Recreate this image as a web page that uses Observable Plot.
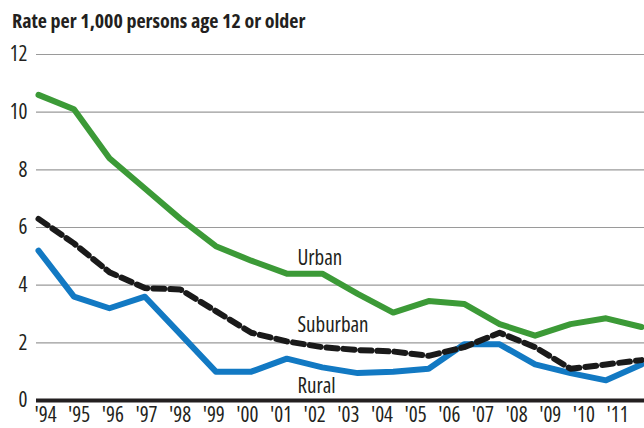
<!DOCTYPE html>
<html>
<head>
<meta charset="utf-8">
<script src="https://cdn.jsdelivr.net/npm/d3@7"></script>
<script src="https://cdn.jsdelivr.net/npm/@observablehq/plot@0.6"></script>
<style>
  html, body { margin: 0; padding: 0; background: #fff; }
  #wrap { position: relative; width: 644px; height: 428px; overflow: hidden;
          font-family: "Open Sans", sans-serif; font-stretch: 75%; }
  #wrap svg { font-stretch: 75%; }
  #title { position: absolute; left: 12px; top: 11px; font-size: 20px; line-height: 20px;
           font-weight: bold; color: #231f20; white-space: nowrap; font-stretch: 75%; }
  #main, #xaxis { position: absolute; left: 0; top: 40px; }
</style>
</head>
<body>
<div id="wrap">
  <div id="title">Rate per 1,000 persons age 12 or older</div>
  <div id="main"></div>
  <div id="xaxis"></div>
</div>
<script>
const years = [1994,1995,1996,1997,1998,1999,2000,2001,2002,2003,2004,2005,2006,2007,2008,2009,2010,2011];
const urban    = [10.6,10.1,8.4,7.35,6.3,5.35,4.85,4.4,4.4,3.7,3.05,3.45,3.35,2.65,2.25,2.65,2.85,2.55];
const suburban = [6.3,5.45,4.45,3.9,3.85,3.1,2.35,2.05,1.85,1.75,1.7,1.55,1.85,2.35,1.85,1.1,1.25,1.4];
const rural    = [5.2,3.6,3.2,3.6,2.3,1.0,1.0,1.45,1.15,0.95,1.0,1.1,1.95,1.95,1.25,0.95,0.7,1.25];
const yTicks = [0,2,4,6,8,10,12];
const xTickLabels = ["'94","'95","'96","'97","'98","'99","'00","'01","'02","'03","'04","'05","'06","'07","'08","'09","'10","'11"];
const seriesLabels = [
  {name: "Urban", year: 2001.3, value: 4.95},
  {name: "Suburban", year: 2001.3, value: 2.6},
  {name: "Rural", year: 2001.3, value: 0.5}
];

const toRows = (vals) => years.map((year, i) => ({year, value: vals[i]}));
const FONT = '"Open Sans", sans-serif';

const W = 644, H = 388;

const main = Plot.plot({
  width: W, height: H,
  marginTop: 14, marginBottom: 28, marginLeft: 36, marginRight: 0,
  insetLeft: 2, insetRight: 3,
  style: {fontFamily: FONT, fontSize: "21px", color: "#231f20", background: "transparent"},
  x: {domain: [1994, 2011], axis: null},
  y: {domain: [0, 12]},
  marks: [
    Plot.ruleY(yTicks.filter(d => d > 0), {stroke: "#9a9a9a", strokeWidth: 1.2}),
    Plot.axisY({ticks: yTicks, tickSize: 0, tickPadding: 9, fontSize: 21, label: null}),
    Plot.ruleY([0], {stroke: "#231f20", strokeWidth: 4}),
    Plot.line(toRows(rural), {x: "year", y: "value", stroke: "#1279c3", strokeWidth: 6, strokeLinejoin: "round"}),
    Plot.line(toRows(urban), {x: "year", y: "value", stroke: "#3c9a37", strokeWidth: 6, strokeLinejoin: "round"}),
    Plot.line(toRows(suburban), {x: "year", y: "value", stroke: "#1a1a1a", strokeWidth: 6, strokeDasharray: "11,6", strokeLinejoin: "round"}),
    Plot.text(seriesLabels, {x: "year", y: "value", text: "name", textAnchor: "start", fontSize: 21, fill: "#231f20"})
  ]
});
document.getElementById("main").appendChild(main);

const xaxis = Plot.plot({
  width: W, height: H,
  marginTop: 14, marginBottom: 28, marginLeft: 45, marginRight: 27,
  style: {fontFamily: FONT, fontSize: "21px", color: "#231f20", background: "transparent"},
  x: {domain: [1994, 2011]},
  y: {domain: [0, 12], axis: null},
  marks: [
    Plot.axisX({ticks: years, tickFormat: (d) => xTickLabels[years.indexOf(d)], tickSize: 0, tickPadding: 7, fontSize: 21, label: null})
  ]
});
document.getElementById("xaxis").appendChild(xaxis);
</script>
</body>
</html>
